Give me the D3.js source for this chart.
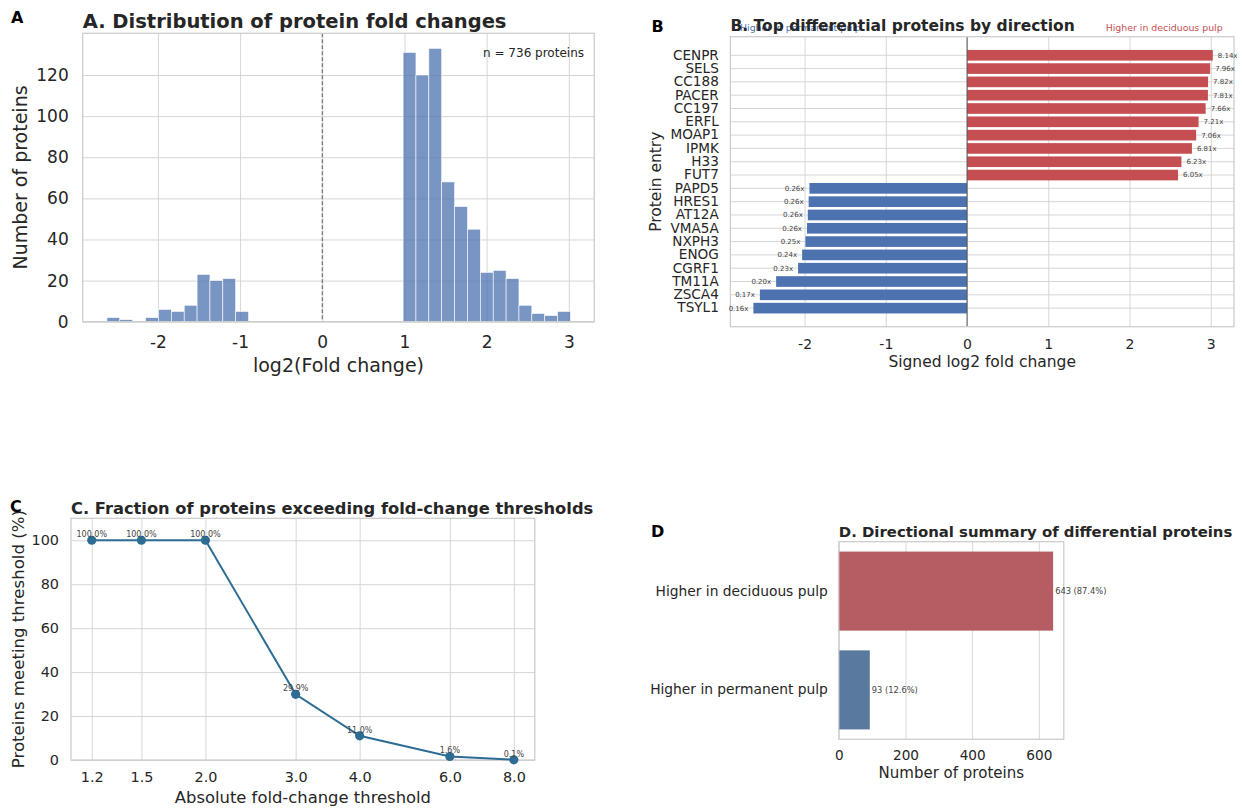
<!DOCTYPE html>
<html>
<head>
<meta charset="utf-8">
<script src="https://d3js.org/d3.v7.min.js"></script>
<style>
  body { margin: 0; background: #ffffff; }
  svg { font-family: "DejaVu Sans", sans-serif; }
</style>
</head>
<body>
<script>
    // ---- data ----

    // A. histogram of log2 fold changes: 36 equal bins from histLo to histHi
    var histLo = -2.62, histHi = 3.02;
    var histCounts = [2, 1, 0, 2, 6, 5, 8, 23, 20, 21, 5,
        0, 0, 0, 0, 0, 0, 0, 0, 0, 0, 0, 0,
        131, 120, 133, 68, 56, 45, 24, 25, 21, 8, 4, 3, 5];
    var histXTicks = [-2, -1, 0, 1, 2, 3];
    var histYTicks = [0, 20, 40, 60, 80, 100, 120];

    // B. top proteins by direction
    var upProteins = ["CENPR", "SELS", "CC188", "PACER", "CC197", "ERFL", "MOAP1", "IPMK", "H33", "FUT7"];
    var upLog2 = [3.025, 2.993, 2.967, 2.965, 2.937, 2.850, 2.820, 2.768, 2.639, 2.597];
    var upFold = ["8.14x", "7.96x", "7.82x", "7.81x", "7.66x", "7.21x", "7.06x", "6.81x", "6.23x", "6.05x"];
    var downProteins = ["PAPD5", "HRES1", "AT12A", "VMA5A", "NXPH3", "ENOG", "CGRF1", "TM11A", "ZSCA4", "TSYL1"];
    var downLog2 = [-1.94, -1.95, -1.96, -1.97, -1.99, -2.03, -2.08, -2.35, -2.55, -2.63];
    var downFold = ["0.26x", "0.26x", "0.26x", "0.26x", "0.25x", "0.24x", "0.23x", "0.20x", "0.17x", "0.16x"];
    var topXTicks = [-2, -1, 0, 1, 2, 3];

    // C. fraction exceeding thresholds
    var thresholds = [1.2, 1.5, 2.0, 3.0, 4.0, 6.0, 8.0];
    var pctMeeting = [100, 100, 100, 29.9, 11.0, 1.6, 0.1];
    var pctTicks = [0, 20, 40, 60, 80, 100];

    // D. directional summary
    var directions = ["Higher in deciduous pulp", "Higher in permanent pulp"];
    var dirCounts = [643, 93];
    var dirPct = [87.4, 12.6];
    var countTicks = [0, 200, 400, 600];

    var INK = "#262626", GRID = "#d6d6d6", SPINE = "#cccccc";
    var RED = "#c44e52", BLUE = "#4c72b0";
    var plainInt = function (d) { return String(d); };   // hyphen minus like the original

    var svg = d3.select("body").append("svg")
        .attr("width", 1242)
        .attr("height", 810);

    function grid(axis, transform) {
        var g = svg.append("g").attr("transform", transform).call(axis);
        g.select(".domain").remove();
        g.selectAll("text").remove();
        g.selectAll("line").attr("stroke", GRID).attr("stroke-width", 1);
    }

    function labels(axis, transform, size) {
        var g = svg.append("g").attr("transform", transform).call(axis);
        g.select(".domain").remove();
        g.selectAll("line").remove();
        g.selectAll("text")
            .attr("font-family", "DejaVu Sans")
            .attr("font-size", size)
            .attr("fill", INK);
        return g;
    }

    function frame(x0, y0, x1, y1) {
        svg.append("rect")
            .attr("x", x0).attr("y", y0)
            .attr("width", x1 - x0).attr("height", y1 - y0)
            .attr("fill", "none")
            .attr("stroke", SPINE)
            .attr("stroke-width", 1.25);
    }

    function text(x, y, str, size, opts) {
        opts = opts || {};
        var t = svg.append("text")
            .attr("x", x).attr("y", y)
            .attr("font-size", size)
            .attr("fill", opts.fill || INK)
            .attr("text-anchor", opts.anchor || "start")
            .attr("font-weight", opts.bold ? "bold" : "normal")
            .text(str);
        if (opts.rotate) t.attr("transform", "rotate(-90," + x + "," + y + ")");
        return t;
    }

    // ================= A =================
    var aL = 82.7, aR = 594.3, aT = 33.3, aB = 321.7;
    var xA = d3.scaleLinear().domain([-2.915, 3.31]).range([aL, aR]);
    var yA = d3.scaleLinear().domain([0, 140.3]).range([aB, aT]);

    grid(d3.axisBottom(xA).tickValues(histXTicks).tickSize(-(aB - aT)), "translate(0," + aB + ")");
    grid(d3.axisLeft(yA).tickValues(histYTicks).tickSize(-(aR - aL)), "translate(" + aL + ",0)");

    var binW = (histHi - histLo) / histCounts.length;
    var bins = histCounts.map(function (c, i) {
        return { x0: histLo + i * binW, x1: histLo + (i + 1) * binW, n: c };
    }).filter(function (d) { return d.n > 0; });

    svg.append("g").selectAll("rect")
        .data(bins)
        .enter().append("rect")
        .attr("x", function (d) { return xA(d.x0); })
        .attr("width", function (d) { return xA(d.x1) - xA(d.x0); })
        .attr("y", function (d) { return yA(d.n); })
        .attr("height", function (d) { return yA(0) - yA(d.n); })
        .attr("fill", BLUE)
        .attr("fill-opacity", 0.75)
        .attr("stroke", "#ffffff")
        .attr("stroke-width", 0.6);

    svg.append("line")
        .attr("x1", xA(0)).attr("x2", xA(0))
        .attr("y1", aT).attr("y2", aB)
        .attr("stroke", "#666666")
        .attr("stroke-width", 1.1)
        .attr("stroke-dasharray", "4,2");

    frame(aL, aT, aR, aB);
    labels(d3.axisBottom(xA).tickValues(histXTicks).tickSize(0).tickPadding(14).tickFormat(plainInt),
        "translate(0," + aB + ")", 17);
    labels(d3.axisLeft(yA).tickValues(histYTicks).tickSize(0).tickPadding(14),
        "translate(" + aL + ",0)", 17);

    text((aL + aR) / 2, 372, "log2(Fold change)", 19, { anchor: "middle" });
    text(27, (aT + aB) / 2, "Number of proteins", 19, { anchor: "middle", rotate: true });
    text(584, 57, "n = 736 proteins", 12, { anchor: "end" });
    text(aL, 28.3, "A. Distribution of protein fold changes", 19.5, { bold: true });
    text(11, 23.3, "A", 16, { bold: true, fill: "#000" });

    // ================= B =================
    var bL = 730.4, bR = 1234, bT = 36.7, bB = 326.7;
    var topRows = upProteins.map(function (p, i) {
        return { name: p, v: upLog2[i], lab: upFold[i] };
    }).concat(downProteins.map(function (p, i) {
        return { name: p, v: downLog2[i], lab: downFold[i] };
    }));

    var xB = d3.scaleLinear().domain([-2.913, 3.286]).range([bL, bR]);
    var yB = d3.scaleBand()
        .domain(topRows.map(function (d) { return d.name; }))
        .range([bT, bB])
        .paddingInner(0.2)
        .paddingOuter(0.995);

    grid(d3.axisBottom(xB).tickValues(topXTicks).tickSize(-(bB - bT)), "translate(0," + bB + ")");
    grid(d3.axisLeft(yB).tickSize(-(bR - bL)), "translate(" + bL + ",0)");

    svg.append("g").selectAll("rect")
        .data(topRows)
        .enter().append("rect")
        .attr("x", function (d) { return xB(Math.min(0, d.v)); })
        .attr("width", function (d) { return Math.abs(xB(d.v) - xB(0)); })
        .attr("y", function (d) { return yB(d.name); })
        .attr("height", yB.bandwidth())
        .attr("fill", function (d) { return d.v > 0 ? RED : BLUE; });

    svg.append("line")
        .attr("x1", xB(0)).attr("x2", xB(0))
        .attr("y1", bT).attr("y2", bB)
        .attr("stroke", "#555555")
        .attr("stroke-width", 1);

    frame(bL, bT, bR, bB);

    svg.append("g").selectAll("text")
        .data(topRows)
        .enter().append("text")
        .attr("x", function (d) { return xB(d.v) + (d.v > 0 ? 5 : -5); })
        .attr("y", function (d) { return yB(d.name) + yB.bandwidth() / 2; })
        .attr("dy", "0.35em")
        .attr("text-anchor", function (d) { return d.v > 0 ? "start" : "end"; })
        .attr("font-size", 7)
        .attr("fill", "#444444")
        .text(function (d) { return d.lab; });

    labels(d3.axisBottom(xB).tickValues(topXTicks).tickSize(0).tickPadding(12).tickFormat(plainInt),
        "translate(0," + bB + ")", 14);
    labels(d3.axisLeft(yB).tickSize(0).tickPadding(11.6), "translate(" + bL + ",0)", 13.6);

    text((bL + bR) / 2, 367.3, "Signed log2 fold change", 15.5, { anchor: "middle" });
    text(661, (bT + bB) / 2, "Protein entry", 15.5, { anchor: "middle", rotate: true });
    text(740, 31, "Higher in permanent pulp", 9.4, { fill: BLUE });
    text(1222.7, 31, "Higher in deciduous pulp", 9.4, { fill: RED, anchor: "end" });
    text(bL, 31.3, "B. Top differential proteins by direction", 15.5, { bold: true });
    text(651.5, 31.7, "B", 16, { bold: true, fill: "#000" });

    // ================= C =================
    var cL = 71, cR = 534.8, cT = 518.3, cB = 760;
    var xC = d3.scaleLog().domain([1.093, 8.79]).range([cL, cR]);
    var yC = d3.scaleLinear().domain([0, 110]).range([cB, cT]);

    grid(d3.axisBottom(xC).tickValues(thresholds).tickSize(-(cB - cT)), "translate(0," + cB + ")");
    grid(d3.axisLeft(yC).tickValues(pctTicks).tickSize(-(cR - cL)), "translate(" + cL + ",0)");
    frame(cL, cT, cR, cB);

    var pts = thresholds.map(function (t, i) { return { t: t, p: pctMeeting[i] }; });
    var lineC = d3.line()
        .x(function (d) { return xC(d.t); })
        .y(function (d) { return yC(d.p); });

    svg.append("path")
        .datum(pts)
        .attr("d", lineC)
        .attr("fill", "none")
        .attr("stroke", "#2d6d93")
        .attr("stroke-width", 2);

    svg.append("g").selectAll("circle")
        .data(pts)
        .enter().append("circle")
        .attr("cx", function (d) { return xC(d.t); })
        .attr("cy", function (d) { return yC(d.p); })
        .attr("r", 4.6)
        .attr("fill", "#2d6d93");

    svg.append("g").selectAll("text")
        .data(pts)
        .enter().append("text")
        .attr("x", function (d) { return xC(d.t); })
        .attr("y", function (d) { return yC(d.p) - 3; })
        .attr("text-anchor", "middle")
        .attr("font-size", 8)
        .attr("fill", "#444444")
        .text(function (d) { return d.p.toFixed(1) + "%"; });

    labels(d3.axisBottom(xC).tickValues(thresholds).tickSize(0).tickPadding(11.5).tickFormat(d3.format(".1f")),
        "translate(0," + cB + ")", 14.4);
    labels(d3.axisLeft(yC).tickValues(pctTicks).tickSize(0).tickPadding(12),
        "translate(" + cL + ",0)", 14.4);

    text((cL + cR) / 2, 803, "Absolute fold-change threshold", 16.4, { anchor: "middle" });
    text(24, (cT + cB) / 2, "Proteins meeting threshold (%)", 16.6, { anchor: "middle", rotate: true });
    text(cL, 514, "C. Fraction of proteins exceeding fold-change thresholds", 16.3, { bold: true });
    text(10, 512, "C", 16, { bold: true, fill: "#000" });

    // ================= D =================
    var dL = 838.8, dR = 1063.8, dT = 541.7, dB = 739.3;
    var xD = d3.scaleLinear().domain([0, 675]).range([dL, dR]);
    var yD = d3.scaleBand().domain(directions).range([dT, dB]).paddingInner(0.2).paddingOuter(0.1);
    var dirColor = ["#b55d62", "#5a799e"];

    grid(d3.axisBottom(xD).tickValues(countTicks).tickSize(-(dB - dT)), "translate(0," + dB + ")");

    svg.append("g").selectAll("rect")
        .data(directions)
        .enter().append("rect")
        .attr("x", xD(0))
        .attr("y", function (d) { return yD(d); })
        .attr("width", function (d, i) { return xD(dirCounts[i]) - xD(0); })
        .attr("height", yD.bandwidth())
        .attr("fill", function (d, i) { return dirColor[i]; });

    frame(dL, dT, dR, dB);

    svg.append("g").selectAll("text")
        .data(directions)
        .enter().append("text")
        .attr("x", function (d, i) { return xD(dirCounts[i]) + 2; })
        .attr("y", function (d) { return yD(d) + yD.bandwidth() / 2; })
        .attr("dy", "0.35em")
        .attr("font-size", 8.3)
        .attr("fill", "#444444")
        .text(function (d, i) { return dirCounts[i] + " (" + dirPct[i].toFixed(1) + "%)"; });

    labels(d3.axisBottom(xD).tickValues(countTicks).tickSize(0).tickPadding(11),
        "translate(0," + dB + ")", 13.6);
    labels(d3.axisLeft(yD).tickSize(0).tickPadding(11), "translate(" + dL + ",0)", 13.8);

    text((dL + dR) / 2, 777.7, "Number of proteins", 15, { anchor: "middle" });
    text(dL, 536.7, "D. Directional summary of differential proteins", 14.9, { bold: true });
    text(651, 536.7, "D", 16, { bold: true, fill: "#000" });
</script>
</body>
</html>
